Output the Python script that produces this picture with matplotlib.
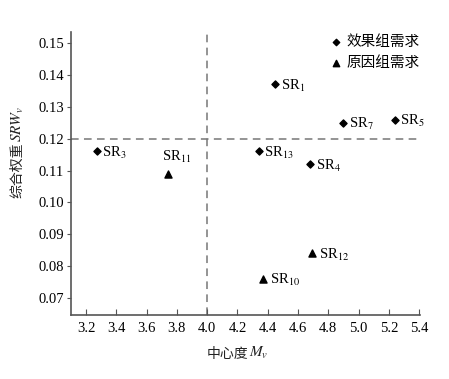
import matplotlib
matplotlib.use("Agg")
import matplotlib.pyplot as plt

plt.rcParams['font.family'] = ['Liberation Serif', 'Noto Sans CJK SC']
plt.rcParams['mathtext.fontset'] = 'stix'

# effect group (diamonds)
effect_names = ["SR$_{1}$", "SR$_{7}$", "SR$_{5}$", "SR$_{13}$", "SR$_{4}$", "SR$_{3}$"]
effect_x = [4.45, 4.90, 5.24, 4.34, 4.68, 3.27]
effect_y = [0.137, 0.125, 0.126, 0.116, 0.112, 0.116]

# cause group (triangles)
cause_names = ["SR$_{11}$", "SR$_{12}$", "SR$_{10}$"]
cause_x = [3.74, 4.69, 4.37]
cause_y = [0.109, 0.084, 0.076]

x_ticks = [3.2, 3.4, 3.6, 3.8, 4.0, 4.2, 4.4, 4.6, 4.8, 5.0, 5.2, 5.4]
y_ticks = [0.07, 0.08, 0.09, 0.10, 0.11, 0.12, 0.13, 0.14, 0.15]
x_mid = 4.0
y_mid = 0.12

fig = plt.figure(figsize=(4.49, 3.79), dpi=100)
ax = fig.add_axes([0.158, 0.169, 0.777, 0.747])

gray = '#555555'
ax.axvline(x_mid, color='#777777', ls=(0, (5, 3.5)), lw=1.1, zorder=1)
ax.axhline(y_mid, color='#777777', ls=(0, (5, 3.5)), lw=1.1, zorder=1)

ax.scatter(effect_x, effect_y, marker='D', s=13, color='black', zorder=3, label='效果组需求')
ax.scatter(cause_x, cause_y, marker='^', s=26, color='black', zorder=3, label='原因组需求')

fs = 10.5
for n, x, y in zip(effect_names, effect_x, effect_y):
    ax.annotate(n, (x, y), xytext=(4, -1), textcoords='offset points',
                ha='left', va='center', fontsize=fs)
for n, x, y in zip(cause_names, cause_x, cause_y):
    if n == "SR$_{11}$":
        ax.annotate(n, (x, y), xytext=(-4, 6), textcoords='offset points',
                    ha='left', va='bottom', fontsize=fs)
    else:
        ax.annotate(n, (x, y), xytext=(5, -1), textcoords='offset points',
                    ha='left', va='center', fontsize=fs)

ax.set_xlim(3.1, 5.405)
ax.set_ylim(0.0647, 0.1535)
ax.set_xticks(x_ticks)
ax.set_xticklabels([f"{v:.1f}" for v in x_ticks])
ax.set_yticks(y_ticks)
ax.set_yticklabels([f"{v:.2f}" for v in y_ticks])

for s in ['top', 'right']:
    ax.spines[s].set_visible(False)
for s in ['left', 'bottom']:
    ax.spines[s].set_color(gray)
    ax.spines[s].set_linewidth(1.2)
ax.tick_params(axis='x', direction='in', length=4, color=gray, labelsize=10.5, pad=5)
ax.tick_params(axis='y', direction='out', length=3, color=gray, labelsize=10.5, pad=2)

# axis labels: Chinese part + math part composed
tx = fig.text(0.553, 0.055, '中心度', fontsize=10, family=['Noto Sans CJK SC'],
              ha='right', va='baseline', color='#222222')
ax.annotate('$M_v$', xy=(1, 0), xycoords=tx, xytext=(0.5, 0), textcoords='offset points',
            ha='left', va='bottom', fontsize=11, color='#222222', annotation_clip=False)

ty = fig.text(0.022, 0.55, '综合权重', fontsize=10, family=['Noto Sans CJK SC'],
              rotation=90, ha='left', va='center', color='#222222')
ax.annotate('$SRW_v$', xy=(0, 1), xycoords=ty, xytext=(0, 0.5), textcoords='offset points',
            ha='left', va='bottom', rotation=90, fontsize=11, color='#222222',
            annotation_clip=False)

leg = ax.legend(loc='upper right', bbox_to_anchor=(1.025, 1.02), frameon=False,
                handletextpad=0.2, labelspacing=0.45, borderaxespad=0.2, handlelength=1.0,
                markerscale=0.9, prop={'family': ['Noto Sans CJK SC'], 'size': 10.5})

fig.savefig('out.png', dpi=100)
